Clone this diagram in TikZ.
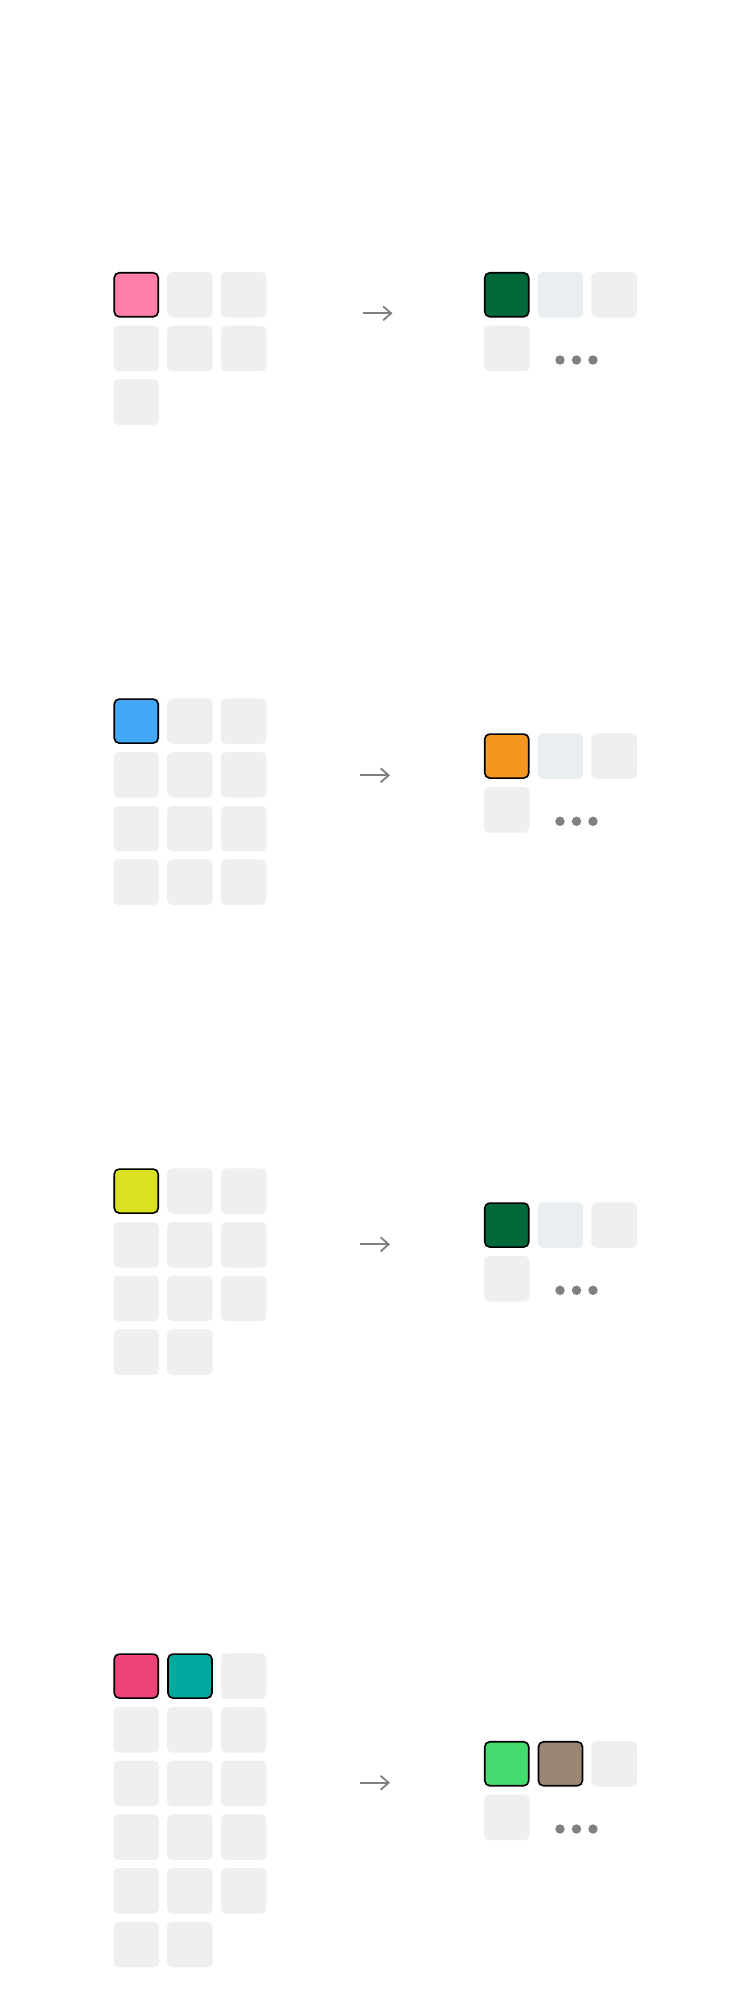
\documentclass[tikz,border=0pt]{standalone}
\usetikzlibrary{arrows.meta}
\definecolor{cellgray}{HTML}{EFEFEF}
\definecolor{cellblue}{HTML}{E9EEF0}
\definecolor{pinkA}{HTML}{FF7EAB}
\definecolor{darkgreen}{HTML}{00693A}
\definecolor{skyblue}{HTML}{42A8F5}
\definecolor{orangeA}{HTML}{F79521}
\definecolor{yellowA}{HTML}{DAE022}
\definecolor{rose}{HTML}{EE4379}
\definecolor{tealA}{HTML}{00A99D}
\definecolor{greenA}{HTML}{43DA6E}
\definecolor{taupe}{HTML}{9A8674}
\definecolor{dotgray}{HTML}{808080}
\begin{document}
\begin{tikzpicture}[x=1pt,y=-1pt,
  cell/.style={rectangle, rounded corners=5pt, inner sep=0pt, minimum size=45.5pt, fill=cellgray},
  bcell/.style={cell, fill=cellblue},
  hot/.style={rectangle, rounded corners=5pt, inner sep=0pt, minimum size=44pt, draw=black, line width=1.6pt, fill=#1},
  dot/.style={circle, inner sep=0pt, minimum size=9.4pt, fill=dotgray},
  arr/.style={draw=dotgray, line width=1.8pt, -{Straight Barb[length=8pt,width=14pt,line width=1.8pt]}}]
\useasboundingbox[fill=white] (0,0) rectangle (750,2014);

% ---------- Section 1 ----------
\foreach \r/\n in {0/3,1/3,2/1} {
  \foreach \c in {1,...,\n} {
    \node[cell] (s1L-\r-\c) at ({136.25+(\c-1)*53.7},{294.75+\r*53.7}) {};
  }
}
\node[hot=pinkA] (s1Lhot) at (136.25,294.75) {};
\node[hot=darkgreen] (s1R1) at (506.75,294.75) {};
\node[bcell] (s1R2) at (560.45,294.75) {};
\node[cell] (s1R3) at (614.15,294.75) {};
\node[cell] (s1R4) at (506.75,348.45) {};
\node[dot] (s1d1) at (560,360) {};
\node[dot] (s1d2) at (576.5,360) {};
\node[dot] (s1d3) at (593,360) {};
\coordinate (a1s) at (362.5,313.3);
\coordinate (a1e) at (392.5,313.3);
\draw[arr] (a1s) -- (a1e);

% ---------- Section 2 ----------
\foreach \r in {0,1,2,3} {
  \foreach \c in {1,2,3} {
    \node[cell] (s2L-\r-\c) at ({136.25+(\c-1)*53.7},{721.1+\r*53.7}) {};
  }
}
\node[hot=skyblue] (s2Lhot) at (136.25,721.1) {};
\node[hot=orangeA] (s2R1) at (506.75,756.05) {};
\node[bcell] (s2R2) at (560.45,756.05) {};
\node[cell] (s2R3) at (614.15,756.05) {};
\node[cell] (s2R4) at (506.75,809.75) {};
\node[dot] (s2d1) at (560,821.3) {};
\node[dot] (s2d2) at (576.5,821.3) {};
\node[dot] (s2d3) at (593,821.3) {};
\coordinate (a2s) at (360,775.3);
\coordinate (a2e) at (390,775.3);
\draw[arr] (a2s) -- (a2e);

% ---------- Section 3 ----------
\foreach \r/\n in {0/3,1/3,2/3,3/2} {
  \foreach \c in {1,...,\n} {
    \node[cell] (s3L-\r-\c) at ({136.25+(\c-1)*53.7},{1191.05+\r*53.7}) {};
  }
}
\node[hot=yellowA] (s3Lhot) at (136.25,1191.05) {};
\node[hot=darkgreen] (s3R1) at (506.75,1225.05) {};
\node[bcell] (s3R2) at (560.45,1225.05) {};
\node[cell] (s3R3) at (614.15,1225.05) {};
\node[cell] (s3R4) at (506.75,1278.75) {};
\node[dot] (s3d1) at (560,1290.3) {};
\node[dot] (s3d2) at (576.5,1290.3) {};
\node[dot] (s3d3) at (593,1290.3) {};
\coordinate (a3s) at (360,1244.3);
\coordinate (a3e) at (390,1244.3);
\draw[arr] (a3s) -- (a3e);

% ---------- Section 4 ----------
\foreach \r/\n in {0/3,1/3,2/3,3/3,4/3,5/2} {
  \foreach \c in {1,...,\n} {
    \node[cell] (s4L-\r-\c) at ({136.25+(\c-1)*53.7},{1676.05+\r*53.7}) {};
  }
}
\node[hot=rose] (s4Lhot1) at (136.25,1676.05) {};
\node[hot=tealA] (s4Lhot2) at (189.95,1676.05) {};
\node[hot=greenA] (s4R1) at (506.75,1763.75) {};
\node[hot=taupe] (s4R2) at (560.45,1763.75) {};
\node[cell] (s4R3) at (614.15,1763.75) {};
\node[cell] (s4R4) at (506.75,1817.45) {};
\node[dot] (s4d1) at (560,1829) {};
\node[dot] (s4d2) at (576.5,1829) {};
\node[dot] (s4d3) at (593,1829) {};
\coordinate (a4s) at (360,1782.7);
\coordinate (a4e) at (390,1782.7);
\draw[arr] (a4s) -- (a4e);
\end{tikzpicture}
\end{document}
